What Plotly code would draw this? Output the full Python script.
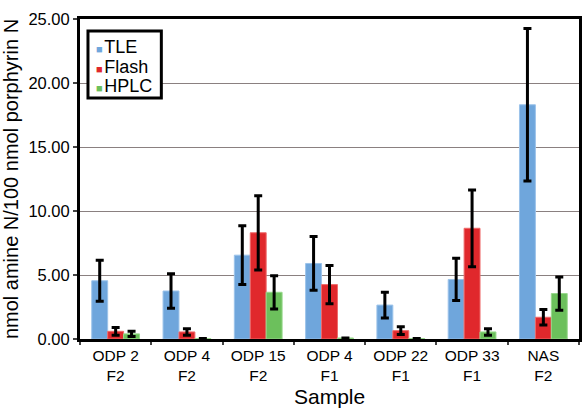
import plotly.graph_objects as go

categories = ["ODP 2<br>F2", "ODP 4<br>F2", "ODP 15<br>F2", "ODP 4<br>F1", "ODP 22<br>F1", "ODP 33<br>F1", "NAS<br>F2"]
series_names = ["TLE", "Flash", "HPLC"]
tle = [4.55, 3.75, 6.55, 5.9, 2.65, 4.65, 18.3]
tle_err = [1.6, 1.35, 2.3, 2.1, 1.0, 1.65, 5.95]
flash = [0.6, 0.55, 8.3, 4.25, 0.65, 8.65, 1.7]
flash_err = [0.3, 0.25, 2.9, 1.5, 0.3, 3.0, 0.6]
hplc = [0.4, 0.03, 3.65, 0.08, 0.03, 0.55, 3.55]
hplc_err = [0.2, 0.0, 1.3, 0.0, 0.0, 0.25, 1.3]

colors = {"TLE": "#6fa6dc", "Flash": "#e0282c", "HPLC": "#6cc05c"}
lines = {"TLE": "#9cc3ea", "Flash": "#ee6a6a", "HPLC": "#98d88c"}

FONT = "Liberation Sans, Arial, sans-serif"
T, B = 19, 70
PLOT_H = 409 - T - B

def py(pix):
    """pixel row -> paper y"""
    return (409 - B - pix) / PLOT_H

fig = go.Figure()
for name, vals, errs in zip(series_names, [tle, flash, hplc], [tle_err, flash_err, hplc_err]):
    fig.add_trace(go.Bar(
        x=categories, y=vals, name=name, showlegend=False,
        marker=dict(color=colors[name], line=dict(color=lines[name], width=1)),
        error_y=dict(type="data", array=errs, visible=True, color="black", thickness=3, width=4),
    ))

# legend box drawn as a shape with one text line per series
fig.add_shape(type="rect", xref="paper", yref="paper", x0=0.016, x1=0.163, y0=py(98), y1=py(31),
              line=dict(color="black", width=3), fillcolor="white", layer="above")
legend_rows = [47, 66.5, 86]
for n, row in zip(series_names, legend_rows):
    fig.add_annotation(
        xref="paper", yref="paper", x=0.029, y=py(row), xanchor="left", yanchor="middle",
        text=f"<span style='color:{colors[n]};font-size:11px'>■</span>&#8202;{n}",
        align="left", showarrow=False,
        font=dict(size=18, family=FONT, color="black"),
    )

# x-axis title placed at the bottom of the page
fig.add_annotation(
    xref="paper", yref="paper", x=0.5, y=py(409), xanchor="center", yanchor="bottom",
    text="Sample", showarrow=False, borderpad=0,
    font=dict(size=21, family=FONT, color="black"),
)

fig.update_layout(
    width=583, height=409,
    margin=dict(l=80, r=1, t=T, b=B),
    paper_bgcolor="white", plot_bgcolor="white",
    barmode="group", bargap=0.33, bargroupgap=0,
    font=dict(family=FONT, color="black"),
    showlegend=False,
)
fig.update_yaxes(
    range=[0, 25], tickvals=[0, 5, 10, 15, 20, 25],
    ticktext=["0.00", "5.00", "10.00", "15.00", "20.00", "25.00"],
    tickfont=dict(size=16.5), ticks="outside", ticklen=4, tickwidth=1.5,
    showgrid=True, gridcolor="#8a8080", gridwidth=1,
    showline=True, linecolor="black", linewidth=3, mirror=True,
    title=dict(text="nmol amine N/100 nmol porphyrin N", font=dict(size=20), standoff=5),
    zeroline=False,
)
fig.update_xaxes(
    tickfont=dict(size=15.5), ticks="outside", ticklen=3, tickwidth=1.5, tickson="boundaries",
    showline=True, linecolor="black", linewidth=3, mirror=True,
)
fig.write_html("out.html")
